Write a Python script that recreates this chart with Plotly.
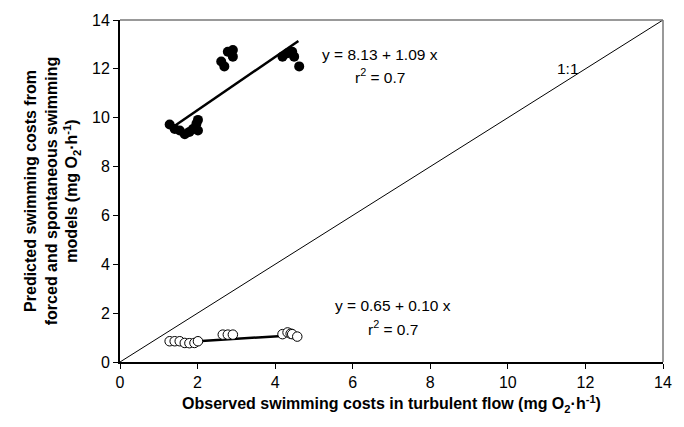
import plotly.graph_objects as go

# Filled: predicted from forced swimming model
obs_forced = [1.28, 1.41, 1.54, 1.67, 1.79, 1.88, 2.01, 1.97, 2.01,
              2.61, 2.69, 2.78, 2.91, 2.91, 4.19, 4.32, 4.44, 4.49, 4.62]
pred_forced = [9.72, 9.54, 9.48, 9.32, 9.42, 9.54, 9.48, 9.75, 9.91,
               12.3, 12.1, 12.7, 12.77, 12.5, 12.5, 12.64, 12.7, 12.5, 12.1]
# Open: predicted from spontaneous swimming model
obs_spont = [1.28, 1.41, 1.54, 1.67, 1.79, 1.92, 2.01, 2.65, 2.78, 2.91,
             4.19, 4.32, 4.40, 4.44, 4.57]
pred_spont = [0.85, 0.85, 0.85, 0.78, 0.77, 0.78, 0.85, 1.12, 1.12, 1.12,
              1.14, 1.21, 1.16, 1.14, 1.04]

fit_forced = (8.13, 1.09)
fit_spont = (0.65, 0.10)
fit_x = [1.3, 4.6]
one_to_one = [0, 14]
ticks = [0, 2, 4, 6, 8, 10, 12, 14]

font = "Liberation Sans, Arial, sans-serif"
fig = go.Figure()
fig.add_trace(go.Scatter(x=one_to_one, y=one_to_one, mode="lines",
                         line=dict(color="black", width=1), hoverinfo="skip"))
fig.add_trace(go.Scatter(x=fit_x, y=[fit_forced[0] + fit_forced[1] * v for v in fit_x],
                         mode="lines", line=dict(color="black", width=2.5)))
fig.add_trace(go.Scatter(x=fit_x, y=[fit_spont[0] + fit_spont[1] * v for v in fit_x],
                         mode="lines", line=dict(color="black", width=2.5)))
fig.add_trace(go.Scatter(x=obs_forced, y=pred_forced, mode="markers",
                         marker=dict(size=10, color="black")))
fig.add_trace(go.Scatter(x=obs_spont, y=pred_spont, mode="markers",
                         marker=dict(size=9.5, color="white", line=dict(color="black", width=1))))

ann_font = dict(size=15.5, color="black", family=font)
fig.add_annotation(x=6.7, y=12.6, text="y = 8.13 + 1.09 x", showarrow=False, font=ann_font)
fig.add_annotation(x=6.7, y=11.72, text="r<sup>2</sup> = 0.7", showarrow=False, font=ann_font)
fig.add_annotation(x=7.05, y=2.3, text="y = 0.65 + 0.10 x", showarrow=False, font=ann_font)
fig.add_annotation(x=7.05, y=1.4, text="r<sup>2</sup> = 0.7", showarrow=False, font=ann_font)
fig.add_annotation(x=11.55, y=12.0, text="1:1", showarrow=False, font=ann_font)

# top/right grey frame
fig.add_shape(type="line", xref="paper", yref="paper", x0=0, x1=1, y0=1, y1=1,
              line=dict(color="#777777", width=1.5))
fig.add_shape(type="line", xref="paper", yref="paper", x0=1, x1=1, y0=0, y1=1,
              line=dict(color="#777777", width=1.5))

axis_common = dict(range=[0, 14], tickvals=ticks, showgrid=False, zeroline=False,
                   showline=True, linecolor="black", linewidth=2, ticks="outside",
                   ticklen=5, tickcolor="black", tickwidth=1,
                   tickfont=dict(size=16, color="black", family=font))
fig.update_xaxes(**axis_common,
                 title=dict(text="<b>Observed swimming costs in turbulent flow (mg O<sub>2</sub>·h<sup>-1</sup>)</b>",
                            font=dict(size=16, color="black", family=font), standoff=8))
fig.update_yaxes(**axis_common,
                 title=dict(text="<b>Predicted swimming costs from<br>forced and spontaneous swimming<br>models (mg O<sub>2</sub>·h<sup>-1</sup>)</b>",
                            font=dict(size=16, color="black", family=font), standoff=10))
fig.update_layout(width=684, height=427, showlegend=False,
                  plot_bgcolor="white", paper_bgcolor="white",
                  margin=dict(l=120, r=18, t=15, b=65))
fig.write_html("out.html", config={"displayModeBar": False},
               post_script="document.body.style.margin='0';")
